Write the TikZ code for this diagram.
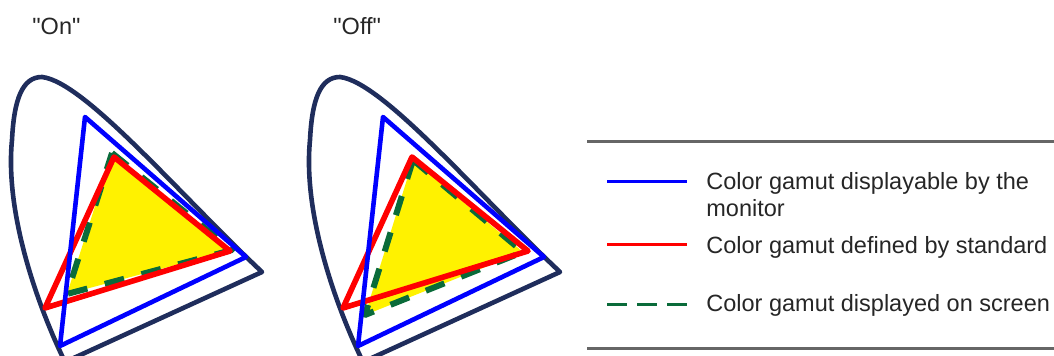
\documentclass[tikz,border=0pt]{standalone}
\usepackage{fontspec}
\setmainfont{Liberation Sans}
\usepackage{xcolor}
\usepackage{tikz}
\usetikzlibrary{positioning}
\definecolor{locusnavy}{HTML}{1F2D5C}
\definecolor{screengreen}{HTML}{0A6B3A}
\definecolor{rulegray}{HTML}{666666}
\tikzset{
    locus/.style    = {draw=locusnavy, line width=2.3pt, line join=round},
    monitor/.style  = {draw=blue, line width=2.3pt, line join=round},
    standard/.style = {draw=red, line width=2.8pt, line join=round},
    screen/.style   = {draw=screengreen, fill=yellow, line width=3pt, line join=round,
                       dash pattern=on 10pt off 9pt},
    keyline/.style  = {line width=1.5pt},
    rule/.style     = {draw=rulegray, line width=1.5pt},
    lbl/.style      = {anchor=base west, inner sep=0pt, text=black!85,
                       font=\fontsize{11.75}{13.5}\selectfont},
    legtext/.style  = {lbl, align=left},
}
\begin{document}
\begin{tikzpicture}[x=0.5pt, y=-0.5pt]
    \useasboundingbox (0,0) rectangle (1054,356);
    \clip (0,0) rectangle (1054,356);
    % titles
    \node[lbl] (on)  at (32,35)  {\textquotedbl On\textquotedbl};
    \node[lbl] (off) at (333,35) {\textquotedbl Off\textquotedbl};
    % spectral locus
    \foreach \dx in {0,298} {
        \begin{scope}[shift={(\dx,0)}]
            \draw[locus] (262,272) -- (65,362)
                .. controls (35,300) and (5,210) .. (12,140)
                .. controls (14,100) and (22,77) .. (42,77)
                .. controls (85,82) and (180,195) .. (262,272) -- cycle;
        \end{scope}
    }
    % gamut shown on screen
    \draw[screen] (112,153) -- (232,250) -- (67,294) -- cycle;
    \draw[screen] (413,160) -- (523,252) -- (365,315) -- cycle;
    % standard and monitor gamut
    \foreach \dx in {0,298} {
        \begin{scope}[shift={(\dx,0)}]
            \draw[standard] (114,157) -- (230,251) -- (45,308) -- cycle;
            \draw[monitor] (85,117) -- (246,257) -- (60,346) -- cycle;
        \end{scope}
    }
    % legend
    \draw[rule] (587,142) -- (1054,142);
    \draw[rule] (587,349) -- (1054,349);
    \draw[keyline, blue] (607,182) -- ++(80,0);
    \node[legtext] (legmon) at (706,217) {Color gamut displayable by the\\monitor};
    \draw[keyline, red] (607,245) -- ++(80,0);
    \node[legtext] (legstd) at (706,254) {Color gamut defined by standard};
    \draw[keyline, screengreen, dash pattern=on 10pt off 5pt] (607,305) -- ++(80,0);
    \node[legtext] (legscr) at (706,312) {Color gamut displayed on screen};
\end{tikzpicture}
\end{document}
